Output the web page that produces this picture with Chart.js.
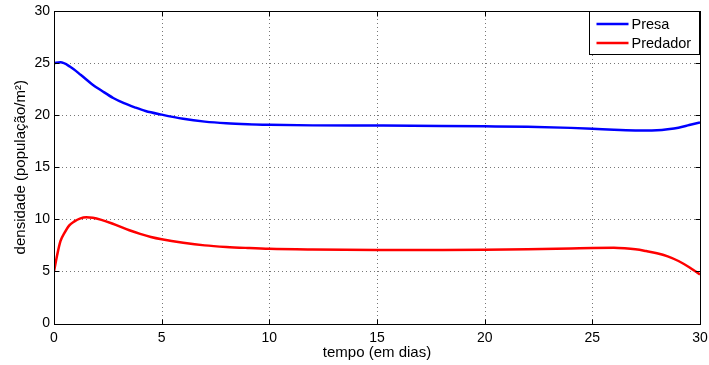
<!DOCTYPE html>
<html>
<head>
<meta charset="utf-8">
<script src="https://cdn.jsdelivr.net/npm/chart.js@4.4.1/dist/chart.umd.min.js"></script>
<style>
  html, body { margin: 0; padding: 0; background: #fff; }
  #chart { display: block; }
</style>
</head>
<body>
<canvas id="chart" width="709" height="365"></canvas>
<script>
// time (days) and densities
const presaT = [0, 0.3, 0.75, 1.25, 1.75, 2.25, 2.75, 3.25, 3.75, 4.25, 5, 6, 7, 8, 9, 10, 12, 15, 18, 20, 22, 24, 25, 26, 27, 27.5, 28, 28.5, 29, 29.5, 30];
const presaY = [25.0, 25.07, 24.65, 23.85, 23.0, 22.3, 21.65, 21.15, 20.75, 20.4, 20.05, 19.65, 19.38, 19.22, 19.13, 19.08, 19.02, 19.0, 18.97, 18.93, 18.88, 18.78, 18.7, 18.6, 18.53, 18.52, 18.55, 18.65, 18.8, 19.05, 19.3];

const predT = [0, 0.15, 0.3, 0.5, 0.7, 0.95, 1.2, 1.5, 1.8, 2.2, 2.7, 3.5, 4, 4.5, 5, 6, 7, 8, 9, 10, 12, 15, 18, 20, 22, 24, 25, 26, 26.5, 27, 27.5, 28, 28.5, 29, 29.5, 30];
const predY = [5.0, 6.6, 7.9, 8.75, 9.4, 9.8, 10.07, 10.2, 10.15, 9.95, 9.6, 8.95, 8.6, 8.3, 8.08, 7.75, 7.5, 7.35, 7.25, 7.17, 7.1, 7.05, 7.05, 7.07, 7.12, 7.2, 7.25, 7.27, 7.22, 7.12, 6.95, 6.75, 6.45, 6.0, 5.4, 4.7];

const xTicks = [0, 5, 10, 15, 20, 25, 30];
const yTicks = [0, 5, 10, 15, 20, 25, 30];

const FONT = 'Liberation Sans, Arial, Helvetica, sans-serif';

function toPoints(xs, ys) {
    return xs.map((x, i) => ({ x: x, y: ys[i] }));
}

// dotted grid under the lines
const gridPlugin = {
    id: 'dottedGrid',
    beforeDatasetsDraw(chart) {
        const ctx = chart.ctx;
        const a = chart.chartArea;
        const xs = chart.scales.x;
        const ys = chart.scales.y;
        ctx.save();
        ctx.strokeStyle = '#777';
        ctx.lineWidth = 1;
        ctx.setLineDash([1, 3]);
        ctx.beginPath();
        xTicks.forEach(v => {
            const px = Math.round(xs.getPixelForValue(v)) + 0.5;
            ctx.moveTo(px, a.top); ctx.lineTo(px, a.bottom);
        });
        yTicks.forEach(v => {
            const py = Math.round(ys.getPixelForValue(v)) + 0.5;
            ctx.moveTo(a.left, py); ctx.lineTo(a.right, py);
        });
        ctx.stroke();
        ctx.restore();
    }
};

// axes box, inward tick marks and the boxed legend (MATLAB look)
const framePlugin = {
    id: 'frame',
    afterDatasetsDraw(chart) {
        const ctx = chart.ctx;
        const a = chart.chartArea;
        const xs = chart.scales.x;
        const ys = chart.scales.y;
        ctx.save();
        ctx.strokeStyle = '#000';
        ctx.lineWidth = 1;
        const l = Math.round(a.left) + 0.5, t = Math.round(a.top) + 0.5;
        const r = Math.round(a.right) + 0.5, b = Math.round(a.bottom) + 0.5;
        ctx.strokeRect(l, t, r - l, b - t);
        ctx.beginPath();
        xTicks.forEach(v => {
            const px = Math.round(xs.getPixelForValue(v)) + 0.5;
            ctx.moveTo(px, b); ctx.lineTo(px, b - 5);
            ctx.moveTo(px, t); ctx.lineTo(px, t + 5);
        });
        yTicks.forEach(v => {
            const py = Math.round(ys.getPixelForValue(v)) + 0.5;
            ctx.moveTo(l, py); ctx.lineTo(l + 5, py);
            ctx.moveTo(r, py); ctx.lineTo(r - 5, py);
        });
        ctx.stroke();

        // legend
        const bx = 589.5, by = 11.5, bw = 110, bh = 43;
        ctx.fillStyle = '#fff';
        ctx.fillRect(bx, by, bw, bh);
        ctx.strokeRect(bx, by, bw, bh);
        ctx.font = '14.5px ' + FONT;
        ctx.textBaseline = 'middle';
        chart.data.datasets.forEach((ds, i) => {
            const cy = by + 12.5 + i * 19;
            ctx.strokeStyle = ds.borderColor;
            ctx.lineWidth = 2.5;
            ctx.beginPath();
            ctx.moveTo(bx + 7, cy); ctx.lineTo(bx + 39, cy);
            ctx.stroke();
            ctx.fillStyle = '#000';
            ctx.fillText(ds.label, bx + 42, cy + 0.5);
        });
        ctx.restore();
    }
};

new Chart(document.getElementById('chart'), {
    type: 'scatter',
    data: {
        datasets: [
            {
                label: 'Presa',
                data: toPoints(presaT, presaY),
                showLine: true,
                borderColor: '#0000ff',
                borderWidth: 2.5,
                pointRadius: 0,
                cubicInterpolationMode: 'monotone'
            },
            {
                label: 'Predador',
                data: toPoints(predT, predY),
                showLine: true,
                borderColor: '#ff0000',
                borderWidth: 2.5,
                pointRadius: 0,
                cubicInterpolationMode: 'monotone'
            }
        ]
    },
    options: {
        responsive: false,
        animation: false,
        layout: { padding: { top: 11, right: 9, left: 0, bottom: 0 } },
        plugins: {
            legend: { display: false },
            tooltip: { enabled: false }
        },
        scales: {
            x: {
                type: 'linear',
                min: 0,
                max: 30,
                afterBuildTicks: s => { s.ticks = xTicks.map(v => ({ value: v })); },
                afterFit: s => { s.height = 41.5; s.paddingRight = 0; s.paddingLeft = 0; },
                grid: { display: false, drawTicks: false },
                border: { display: false },
                ticks: {
                    color: '#000',
                    padding: 6,
                    maxRotation: 0,
                    font: { family: FONT, size: 14 }
                },
                title: {
                    display: true,
                    text: 'tempo (em dias)',
                    color: '#000',
                    padding: { top: 0, bottom: 3 },
                    font: { family: FONT, size: 15 }
                }
            },
            y: {
                type: 'linear',
                min: 0,
                max: 30,
                afterBuildTicks: s => { s.ticks = yTicks.map(v => ({ value: v })); },
                afterFit: s => { s.width = 54; s.paddingTop = 0; s.paddingBottom = 0; },
                grid: { display: false, drawTicks: false },
                border: { display: false },
                ticks: {
                    color: '#000',
                    padding: 4,
                    font: { family: FONT, size: 14 }
                },
                title: {
                    display: true,
                    text: 'densidade (população/m²)',
                    color: '#000',
                    padding: { top: 12, bottom: 0 },
                    font: { family: FONT, size: 15 }
                }
            }
        }
    },
    plugins: [gridPlugin, framePlugin]
});
</script>
</body>
</html>
